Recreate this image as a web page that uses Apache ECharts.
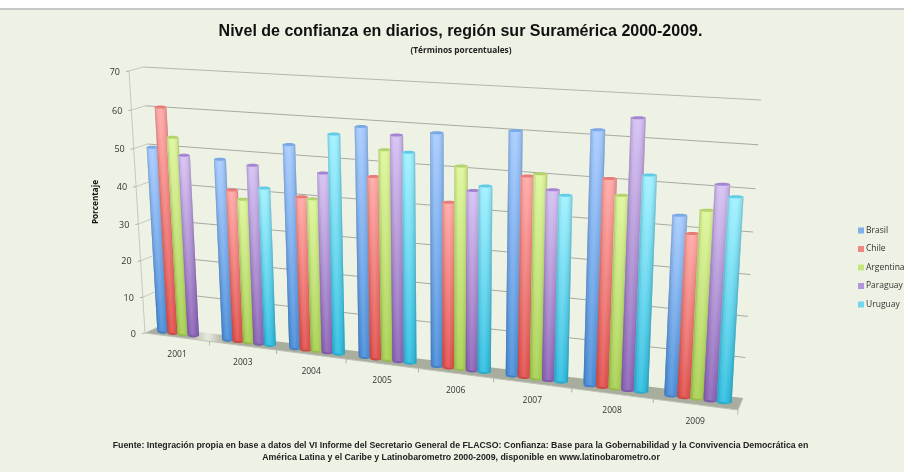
<!DOCTYPE html>
<html><head><meta charset="utf-8">
<style>html,body{margin:0;padding:0;background:#eef2e4}#c{width:904px;height:472px}</style>
<script src="https://cdn.jsdelivr.net/npm/echarts@6/dist/echarts.min.js"></script>
</head><body><div id="c"></div>
<script>
const categories = ['2001','2003','2004','2005','2006','2007','2008','2009'];
const yTicks = [0,10,20,30,40,50,60,70];
const brasil    = [50, 48.2, 53.3, 59, 58.7, 60.5, 61.9, 43.5];
const chile     = [60.6, 40.5, 40.3, 46.9, 42, 49.9, 50.8, 39.5];
const argentina = [53, 38.3, 40, 53.7, 51.1, 50.7, 47.1, 45.2];
const paraguay  = [48.5, 47.3, 46.8, 57.5, 45.4, 47.1, 65.2, 51.4];
const uruguay   = [null, 41.7, 56.7, 53.5, 46.7, 46, 52.3, 48.8];
const seriesNames = ['Brasil','Chile','Argentina','Paraguay','Uruguay'];
const seriesValues = [brasil, chile, argentina, paraguay, uruguay];

const swatch = ['#7fb0ea','#ee8783','#c5e67f','#b395dc','#6fd8ef'];
const topCol = ['#a9ccff','#ffaaa7','#def69c','#d6c2f3','#a2f1ff'];
const botCol = ['#4d8fd9','#e0534f','#a9d055','#8d66b8','#33bee0'];
const capCol = ['#7aa9e6','#e87c78','#b4d26e','#a585d0','#62cbe6'];

function hom(p0,p1,p2,p3){
  const dx1=p1[0]-p2[0],dx2=p3[0]-p2[0],sx=p0[0]-p1[0]+p2[0]-p3[0];
  const dy1=p1[1]-p2[1],dy2=p3[1]-p2[1],sy=p0[1]-p1[1]+p2[1]-p3[1];
  const D=dx1*dy2-dx2*dy1, g=(sx*dy2-dx2*sy)/D, h=(dx1*sy-sx*dy1)/D;
  const a=p1[0]-p0[0]+g*p1[0],b=p3[0]-p0[0]+h*p3[0],c=p0[0];
  const d=p1[1]-p0[1]+g*p1[1],e=p3[1]-p0[1]+h*p3[1],f=p0[1];
  return (u,v)=>{const w=g*u+h*v+1;return [(a*u+b*v+c)/w,(d*u+e*v+f)/w];};
}
// perspective planes: bottom-left, bottom-right, top-right, top-left
const barPlane  = hom([151.5,330],[740.5,404],[758.5,103],[136,69]);
const backPlane = hom([158,327],[743,398],[761,100],[143,67]);
const frontPlane= hom([145,333],[738,410],[756,106],[129,71]);

const SLOT = 0.157, START = 0.18, STRIPS = 10;
const shade = [0.86,0.94,1.0,1.04,1.06,1.04,1.0,0.97,0.92,0.84];
function mix(hex,f){
  const n=parseInt(hex.slice(1),16);
  const ch=[n>>16,(n>>8)&255,n&255].map(c=>{
    const r=f<=1?c*f:c+(255-c)*(f-1)*1.5;
    return Math.max(0,Math.min(255,Math.round(r)));
  });
  return 'rgb('+ch.join(',')+')';
}
function norm(params,api,x,y){
  const p=api.coord([x,y]), cs=params.coordSys;
  return [(p[0]-cs.x)/cs.width,(cs.y+cs.height-p[1])/cs.height];
}
function lg(c1,c2){return new echarts.graphic.LinearGradient(0,0,0,1,[{offset:0,color:c1},{offset:1,color:c2}]);}

function renderBar(si){
  return function(params,api){
    const g=api.value(0), val=api.value(1), cx=g+START+si*SLOT;
    const hw=SLOT/2*1.12, children=[];
    const P=(x,y)=>{const n=norm(params,api,x,y);return barPlane(n[0],n[1]);};
    const bl=P(cx-hw,0),br=P(cx+hw,0),tl=P(cx-hw,val),tr=P(cx+hw,val);
    const rxB=(br[0]-bl[0])/2, rxT=(tr[0]-tl[0])/2;
    const bc=[(bl[0]+br[0])/2,(bl[1]+br[1])/2], tc=[(tl[0]+tr[0])/2,(tl[1]+tr[1])/2];
    children.push({type:'ellipse',shape:{cx:bc[0],cy:bc[1],rx:rxB,ry:2.2},style:{fill:mix(botCol[si],0.9)}});
    children.push({type:'polygon',shape:{points:[bl,br,tr,tl]},style:{fill:lg(topCol[si],botCol[si])}});
    for(let k=0;k<STRIPS;k++){
      const x0=cx-hw+2*hw*k/STRIPS, x1=cx-hw+2*hw*(k+1.15)/STRIPS;
      const xx1=Math.min(x1,cx+hw);
      const pts=[P(x0,0),P(xx1,0),P(xx1,val),P(x0,val)];
      const f=shade[k];
      children.push({type:'polygon',shape:{points:pts},style:{fill:lg(mix(topCol[si],f),mix(botCol[si],f))}});
    }
    children.push({type:'ellipse',shape:{cx:tc[0],cy:tc[1],rx:rxT,ry:1.5},style:{fill:capCol[si]}});
    return {type:'group',children};
  };
}
function renderFloor(params,api){
  const n=(x,y)=>norm(params,api,x,y);
  const a=n(0,0),b=n(8,0);
  const fl=frontPlane(a[0],a[1]),fr=frontPlane(b[0],b[1]),bl=backPlane(a[0],a[1]),br=backPlane(b[0],b[1]);
  const children=[{type:'polygon',shape:{points:[fl,fr,br,bl]},style:{fill:new echarts.graphic.LinearGradient(0,0,1,0,[
    {offset:0,color:'#a8ad9e'},{offset:0.07,color:'#a8ad9e'},{offset:0.105,color:'#e6eadd'},{offset:0.135,color:'#a8ad9e'},{offset:1,color:'#a8ad9e'}])}}];
  children.push({type:'line',shape:{x1:fr[0],y1:fr[1],x2:fr[0]-0.5,y2:fr[1]+5},style:{stroke:'#c0c3ba',lineWidth:1}});
  children.push({type:'line',shape:{x1:fr[0],y1:fr[1],x2:br[0],y2:br[1]},style:{stroke:'#c0c3ba',lineWidth:1}});
  children.push({type:'line',shape:{x1:fl[0],y1:fl[1],x2:fr[0],y2:fr[1]},style:{stroke:'#c0c3ba',lineWidth:1}});
  return {type:'group',children};
}
function renderGrid(params,api){
  const v=api.value(1);
  const a=norm(params,api,0,v),b=norm(params,api,8,v);
  const f=frontPlane(a[0],a[1]),bl=backPlane(a[0],a[1]),br=backPlane(b[0],b[1]);
  const children=[];
  if(v>0){
    children.push({type:'line',shape:{x1:bl[0],y1:bl[1],x2:br[0],y2:br[1]},style:{stroke:v===70?'#b4b7ae':'#a7aaa2',lineWidth:1}});
  }
  children.push({type:'line',shape:{x1:f[0],y1:f[1],x2:bl[0],y2:bl[1]},style:{stroke:'#c6c9c0',lineWidth:1}});
  children.push({type:'line',shape:{x1:f[0]-3,y1:f[1]+0.5,x2:f[0],y2:f[1]},style:{stroke:'#b0b3aa',lineWidth:1}});
  children.push({type:'text',style:{x:f[0]-9,y:f[1]+1,text:String(yTicks[api.value(0)]),fill:'#333',font:'9px "Open Sans"',textAlign:'right',textVerticalAlign:'middle'}});
  return {type:'group',children};
}
function renderWalls(params,api){
  const a0=norm(params,api,0,0),a1=norm(params,api,0,70);
  const f0=frontPlane(a0[0],a0[1]),f1=frontPlane(a1[0],a1[1]);
  return {type:'group',children:[
    {type:'line',shape:{x1:f0[0],y1:f0[1],x2:f1[0],y2:f1[1]},style:{stroke:'#c6c9c0',lineWidth:1}}
  ]};
}
function renderX(params,api){
  const g=api.value(0);
  const c=norm(params,api,g+0.5,0), e=norm(params,api,g,0);
  const p=frontPlane(c[0],c[1]), t=frontPlane(e[0],e[1]);
  const children=[{type:'text',style:{x:p[0],y:p[1]+17,text:categories[g],fill:'#333',font:'8.5px "Open Sans"',textAlign:'center',textVerticalAlign:'middle'}}];
  if(g>0) children.push({type:'line',shape:{x1:t[0],y1:t[1],x2:t[0],y2:t[1]+4},style:{stroke:'#b0b3aa',lineWidth:1}});
  return {type:'group',children};
}

const series=[
  {type:'custom',silent:true,renderItem:renderFloor,data:[[0,0]],clip:false,z:1,animation:false},
  {type:'custom',silent:true,renderItem:renderWalls,data:[[0,0]],clip:false,z:1,animation:false},
  {type:'custom',silent:true,renderItem:renderGrid,data:yTicks.map((v,i)=>[i,v]),clip:false,z:2,animation:false},
  {type:'custom',silent:true,renderItem:renderX,data:categories.map((c,i)=>[i,0]),clip:false,z:2,animation:false}
];
seriesNames.forEach((name,si)=>{
  series.push({type:'custom',name,renderItem:renderBar(si),clip:false,z:3+si,animation:false,
    itemStyle:{color:swatch[si]},
    data:seriesValues[si].map((v,g)=>v==null?null:[g,v]).filter(Boolean)});
});

const chart=echarts.init(document.getElementById('c'),null,{renderer:'canvas'});
chart.setOption({
  backgroundColor:'#eef2e4',
  animation:false,
  title:[
    {text:'Nivel de confianza en diarios, región sur Suramérica 2000-2009.',left:455.5,top:19,textAlign:'center',
     textStyle:{fontFamily:'Liberation Sans',fontWeight:'bold',fontSize:16,color:'#111'}},
    {text:'(Términos porcentuales)',left:456,top:42,textAlign:'center',
     textStyle:{fontFamily:'Open Sans',fontWeight:'bold',fontSize:8.3,color:'#222'}},
    {text:'Fuente: Integración propia en base a datos del VI Informe del Secretario General de FLACSO: Confianza: Base para la Gobernabilidad y la Convivencia Democrática en',left:455.5,top:436,textAlign:'center',
     textStyle:{fontFamily:'Liberation Sans',fontWeight:'bold',fontSize:8.77,color:'#222'}},
    {text:'América Latina y el Caribe y Latinobarometro 2000-2009, disponible en www.latinobarometro.or',left:456,top:448,textAlign:'center',
     textStyle:{fontFamily:'Liberation Sans',fontWeight:'bold',fontSize:8.77,color:'#222'}}
  ],
  legend:{orient:'vertical',left:858,top:226,padding:0,itemWidth:6,itemHeight:6,itemGap:9.5,icon:'rect',
    data:seriesNames,textStyle:{fontFamily:'Open Sans',fontSize:8.5,color:'#333',padding:[0,0,0,-3]}},
  grid:{left:130,top:70,width:630,height:340,show:false},
  xAxis:{type:'value',min:0,max:8,show:false},
  yAxis:{type:'value',min:0,max:70,interval:10,show:false},
  graphic:[
    {type:'rect',shape:{x:0,y:0,width:904,height:8},style:{fill:'#ffffff'},z:0,silent:true},
    {type:'rect',shape:{x:0,y:8,width:904,height:2},style:{fill:'#c6c6c6'},z:0,silent:true},
    {type:'text',x:96,y:202,rotation:Math.PI/2,style:{text:'Porcentaje',fill:'#111',font:'bold 8.2px "Open Sans"',textAlign:'center',textVerticalAlign:'middle'},silent:true}
  ],
  series
});
</script></body></html>
